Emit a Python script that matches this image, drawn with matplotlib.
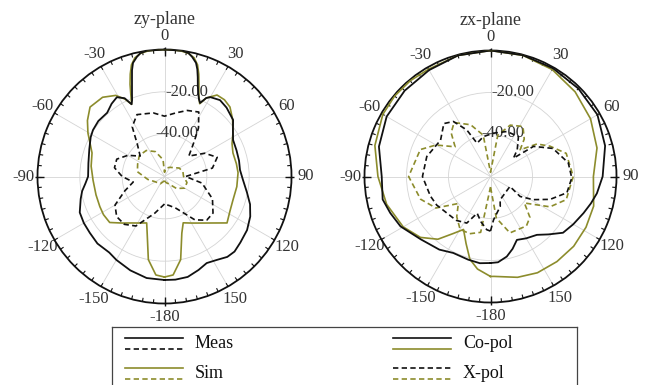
import numpy as np
import matplotlib
matplotlib.use("Agg")
import matplotlib.pyplot as plt

plt.rcParams["font.family"] = ["Liberation Serif", "DejaVu Serif"]

BLACK = "#111111"
OLIVE = "#8c8c2c"
TEXT = "#333333"

# ---- zy-plane (angle in deg, level in dB) ----
zy_meas_co_ang = [-180, -170, -160, -150, -144, -135, -127, -120, -113, -105, -100, -95, -90, -80, -70,
                  -62, -57, -50, -42, -36, -31, -27, -24.5, -23, -21.5, -20, -18.5, -17, -15.5, -13, -11,
                  -8, 0, 8, 11, 13, 15.5, 17, 18.5, 20, 22, 24, 25.8, 28, 30, 36, 42, 50.5, 56, 62, 70,
                  78, 85, 92, 101, 108, 115, 123, 131, 137, 142, 148, 154, 160, 167, 174, 180]
zy_meas_co_db = [-11.1, -11.3, -12.8, -14.5, -15.6, -15.2, -15.8, -16.0, -16.5, -19.0, -20.5, -22.5, -23.9,
                 -23.5, -22.2, -20.5, -19.7, -19.2, -19.5, -17.5, -16.3, -18.5, -22.5, -20.8, -18.1, -15.1,
                 -11.6, -7.5, -4.3, -2.0, -0.6, 0.0, 0.0, 0.0, -0.6, -2.0, -4.3, -7.0, -10.5, -14.0, -17.5,
                 -20.0, -21.4, -18.0, -16.7, -15.4, -16.2, -18.0, -21.0, -23.3, -23.8, -24.0, -24.2, -23.0,
                 -20.3, -17.5, -15.3, -13.5, -12.5, -11.5, -11.8, -13.5, -14.5, -13.0, -11.3, -11.0, -11.1]

zy_sim_co_ang = [-180, -175, -169, -163, -159, -152, -145, -138, -130, -122, -115, -105, -93, -82, -72,
                 -66, -60.4, -54, -47, -38, -31, -27, -24.5, -22.5, -20.5, -18.5, -16.5, -14, -11, -7, 0,
                 7, 11, 14, 16.5, 18.5, 20.5, 23, 25.8, 28, 32.8, 38, 43.3, 50, 57.6, 64, 71, 80, 87, 98,
                 109, 118, 126.6, 133, 140, 150, 158, 163, 169, 175, 180]
zy_sim_co_db = [-12.5, -13.3, -20.0, -32.0, -36.5, -35.1, -33.2, -30.4, -26.2, -26.0, -26.3, -26.5, -26.2,
                -25.0, -24.0, -21.5, -18.4, -15.0, -11.9, -12.5, -15.3, -19.0, -22.5, -18.5, -13.5, -9.0,
                -5.0, -2.2, -0.7, -0.1, 0.0, -0.1, -0.7, -2.2, -5.0, -9.0, -13.5, -18.5, -21.8, -18.0,
                -14.2, -14.0, -14.9, -18.0, -21.7, -24.5, -25.8, -25.5, -25.2, -25.5, -25.8, -25.0, -23.2,
                -27.8, -31.3, -34.6, -36.4, -32.0, -20.0, -13.3, -12.5]

zy_meas_x_ang = [-180, -165, -150, -140, -130, -120, -110, -100, -90, -80, -70, -60, -50, -40, -33, -24,
                 -10, 0, 10, 19, 28, 35, 40, 50, 60, 70, 80, 90, 100, 115, 127, 136, 145, 160, 170, 180]
zy_meas_x_db = [-47, -42, -33, -30.5, -30.5, -33, -40, -45, -40, -36, -36, -40, -45, -40, -32, -28,
                -29.5, -31.5, -29.5, -27, -25.5, -32, -38, -45, -38, -33.5, -37, -50, -42, -35, -31.3,
                -31.3, -35, -44, -46, -47]

zy_sim_x_ang = [-180, -150, -120, -100, -80, -65, -50, -35, -20, -5, 0, 10, 30, 60, 75, 90, 105, 120,
                135, 150, 165, 180]
zy_sim_x_db = [-58, -56, -55, -52, -47, -46, -44.5, -45, -47.5, -52, -58, -56, -55, -52, -51, -51, -49,
               -49, -52, -56, -57, -58]

# ---- zx-plane ----
zx_meas_co_ang = [-180, -173, -165, -154, -145, -132, -119, -110, -102, -90, -75, -60, -45, -30, -15, 0,
                  15, 30, 45, 60, 75, 90, 99, 105, 111.5, 120, 127.8, 135, 141.5, 150, 157.4, 163, 168.5,
                  175, 180]
zx_meas_co_db = [-18.8, -18.4, -19.0, -19.5, -17.5, -15.3, -11.0, -9.2, -7.5, -8.2, -5.0, -2.9, -2.2,
                 -1.5, -0.3, 0.0, -0.2, -0.5, -0.8, -1.2, -3.5, -6.6, -8.7, -10.5, -12.4, -14.5, -16.3,
                 -21.0, -24.5, -26.0, -27.3, -24.0, -21.1, -19.0, -18.8]

zx_sim_co_ang = [-180, -172, -166, -160, -153, -147, -140, -131, -120, -105, -90, -75, -60, -50, -40, -30,
                 -15, 0, 15, 30, 45, 60, 75, 90, 106, 118, 130, 142, 154, 165, 178, 180]
zx_sim_co_db = [-12.4, -15.5, -19.4, -26.0, -31.7, -27.7, -21.0, -15.8, -12.0, -8.8, -6.4, -3.0, -0.8,
                -0.4, -0.5, -1.0, -0.3, 0.0, -0.3, -1.2, -3.0, -5.0, -7.5, -11.0, -8.9, -8.5, -8.3, -8.6,
                -9.0, -10.3, -12.4, -12.4]

zx_meas_x_ang = [-180, -176, -168, -160, -153, -142, -130, -118, -108, -90, -72.6, -54, -41.4, -34, -27,
                 -22, -10, 4, 20, 35, 45, 51.4, 55, 65.8, 80, 91, 102, 111, 118.5, 124, 117, 157.5, 162,
                 176, 180]
zx_meas_x_db = [-34.0, -34.6, -38.0, -41.4, -35.1, -33.5, -32.9, -31.0, -29.9, -27.6, -28.2, -30.6, -26.4,
                -28.4, -35.1, -42.9, -40.7, -39.3, -37.2, -36.8, -42.0, -46.0, -35.0, -27.4, -22.4, -21.3,
                -22.8, -29.6, -36.9, -43.0, -49.6, -48.0, -45.0, -39.3, -34.0]

zx_sim_x_ang = [-180, -170, -160, -150, -140, -130, -120, -108, -90, -69, -60, -50, -42, -34, -21, -10,
                0, 10, 21, 33, 42, 48, 55, 63, 73, 90, 107, 117, 128, 136, 144, 161, 172, 180]
zx_sim_x_db = [-55, -33, -31, -31, -35, -40, -30, -25, -21, -24.2, -30, -38, -32, -29, -33.6, -40, -58,
               -40, -33.8, -31.6, -36, -41, -33, -28.2, -22.3, -20.6, -22.3, -28.2, -39.5, -33, -30.9,
               -31.6, -40, -55]

tick_angles = list(range(0, 360, 30))
tick_labels = [str(a if a <= 150 else a - 360) for a in tick_angles]
ring_levels = [-40, -20]
ring_labels = ["-40.00", "-20.00"]


def setup_polar(ax, title):
    ax.set_theta_zero_location("N")
    ax.set_theta_direction(-1)
    ax.set_rlim(-60, 0)
    ax.set_axisbelow(True)
    ax.set_thetagrids(tick_angles, tick_labels, color=TEXT, fontsize=12)
    ax.set_rgrids(ring_levels, [""] * len(ring_levels))
    ax.grid(True, color="#d4d4d4", lw=0.6)
    ax.tick_params(axis="x", length=0, pad=3)
    ax.spines["polar"].set_color(BLACK)
    ax.spines["polar"].set_linewidth(1.3)
    # ring values sit just right of the 0 deg spoke
    for lev, lab, th in zip(ring_levels, ring_labels, (16, 15)):
        ax.text(np.deg2rad(th), lev + 1.5, lab, ha="center", va="center",
                fontsize=12, color=TEXT, zorder=3)
    # inward tick marks on the outer ring
    minor = np.deg2rad(np.arange(0, 360, 5))
    ax.vlines(minor, -1.8, 0, color=BLACK, lw=0.8, clip_on=False, zorder=3)
    major = np.deg2rad(np.arange(0, 360, 90))
    ax.vlines(major, -3.2, 1.0, color=BLACK, lw=1.0, clip_on=False, zorder=3)
    ax.text(0.5, 1.12, title, transform=ax.transAxes, ha="center", va="center",
            fontsize=13, color=TEXT)


def draw(ax, ang, db, color, dashed, lw):
    ax.plot(np.deg2rad(ang), db, color=color, lw=lw,
            ls=(0, (3.2, 2.0)) if dashed else "-", zorder=4)


fig = plt.figure(figsize=(6.49, 3.85), dpi=100)
ax1 = fig.add_axes([37.5 / 649, 81.5 / 385, 254 / 649, 254 / 385], projection="polar")
ax2 = fig.add_axes([364.5 / 649, 82.5 / 385, 252 / 649, 252 / 385], projection="polar")
setup_polar(ax1, "zy-plane")
setup_polar(ax2, "zx-plane")

draw(ax1, zy_sim_co_ang, zy_sim_co_db, OLIVE, False, 1.2)
draw(ax1, zy_meas_co_ang, zy_meas_co_db, BLACK, False, 1.3)
draw(ax1, zy_sim_x_ang, zy_sim_x_db, OLIVE, True, 1.2)
draw(ax1, zy_meas_x_ang, zy_meas_x_db, BLACK, True, 1.2)

draw(ax2, zx_sim_co_ang, zx_sim_co_db, OLIVE, False, 1.2)
draw(ax2, zx_meas_co_ang, zx_meas_co_db, BLACK, False, 1.3)
draw(ax2, zx_sim_x_ang, zx_sim_x_db, OLIVE, True, 1.2)
draw(ax2, zx_meas_x_ang, zx_meas_x_db, BLACK, True, 1.2)

# legend box, running off the bottom edge
lg = fig.add_axes([112 / 649, -0.05, 465 / 649, 58 / 385 + 0.05])
lg.set_xlim(112, 577)
lg.set_ylim(404, 327)
lg.set_xticks([])
lg.set_yticks([])
for s in lg.spines.values():
    s.set_color("#444444")
    s.set_linewidth(0.9)

entries = [
    ("Meas", (BLACK, False), (BLACK, True), 125, 343),
    ("Sim", (OLIVE, False), (OLIVE, True), 125, 373),
    ("Co-pol", (BLACK, False), (OLIVE, False), 393, 343),
    ("X-pol", (BLACK, True), (OLIVE, True), 393, 373),
]
for label, top, bottom, x0, yc in entries:
    for (c, dashed), y in ((top, yc - 5.5), (bottom, yc + 5.5)):
        lg.plot([x0, x0 + 58], [y, y], color=c, lw=1.2,
                ls=(0, (3.2, 2.0)) if dashed else "-")
    lg.text(x0 + 70, yc, label, va="center", ha="left", fontsize=13, color=BLACK)

fig.savefig("out.png", dpi=100)
